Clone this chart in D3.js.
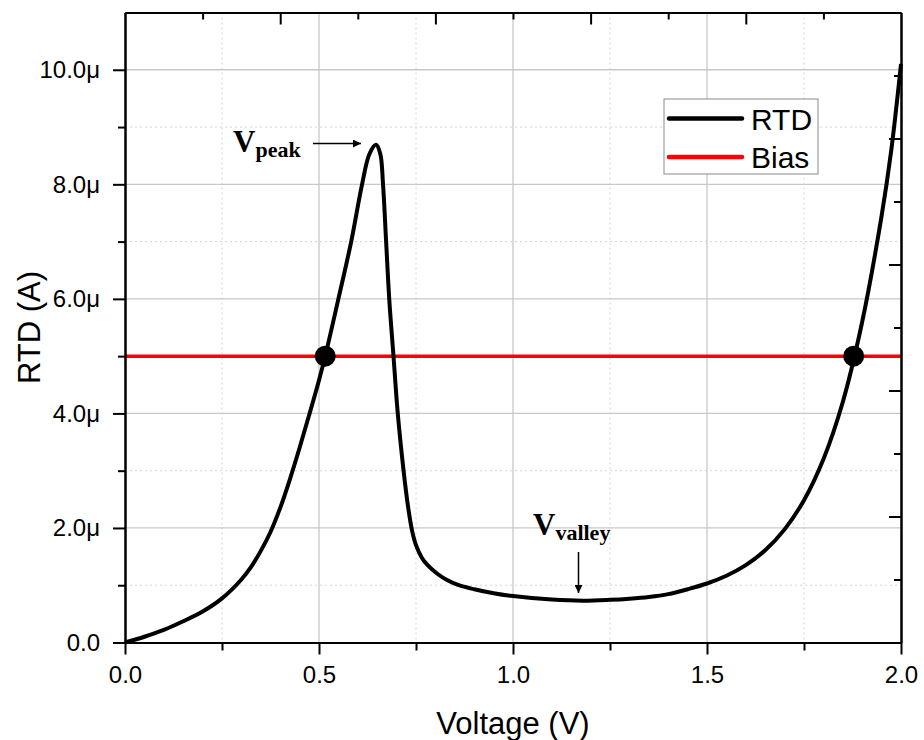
<!DOCTYPE html>
<html lang="en">
<head>
	<meta charset="UTF-8">
	<title>RTD</title>
	<script src="https://d3js.org/d3.v7.min.js"></script>
	<style>
		body { margin: 0; background: #fff; }
		.tick text { font-family: "Liberation Sans", Arial, sans-serif; font-size: 24px; fill: #000; }
	</style>
</head>
<body>

	<div class="box"></div>

	<script type="text/javascript">
		// voltage (V) and RTD current (uA)
		let voltage = [0, 0.05, 0.1, 0.15, 0.2, 0.25, 0.3, 0.325, 0.35, 0.375, 0.4, 0.425, 0.45, 0.475, 0.5, 0.516, 0.55, 0.583, 0.611, 0.63, 0.647, 0.658, 0.665, 0.673, 0.681, 0.692, 0.703, 0.718, 0.73, 0.74, 0.75, 0.765, 0.78, 0.805, 0.83, 0.86, 0.9, 0.95, 1.0, 1.1, 1.18, 1.25, 1.3, 1.35, 1.4, 1.45, 1.5, 1.55, 1.6, 1.65, 1.7, 1.75, 1.8, 1.85, 1.9, 1.95, 1.975, 2.0]
		let current = [0, 0.1, 0.22, 0.37, 0.54, 0.77, 1.1, 1.32, 1.6, 1.93, 2.35, 2.85, 3.4, 3.98, 4.58, 5.0, 6.0, 7.0, 8.0, 8.53, 8.69, 8.53, 8.0, 7.0, 6.0, 5.0, 4.0, 3.0, 2.35, 1.95, 1.7, 1.48, 1.35, 1.2, 1.09, 1.0, 0.93, 0.86, 0.81, 0.75, 0.73, 0.745, 0.765, 0.795, 0.845, 0.93, 1.03, 1.165, 1.35, 1.61, 1.975, 2.485, 3.2, 4.2, 5.6, 7.45, 8.6, 10.1]
		let bias = 5
		let crossings = [0.516, 1.878]
		let xTicks = [0, 0.5, 1.0, 1.5, 2.0]
		let xMinor = [0.25, 0.75, 1.25, 1.75]
		let yTicks = [0, 2, 4, 6, 8, 10]
		let yMinor = [1, 3, 5, 7, 9]
		let seriesNames = ['RTD', 'Bias']
		let seriesColors = ['#000000', '#ff0000']

		let width = 924
		let height = 740
		let margin = { top: 12.5, right: 23, bottom: 97.5, left: 125 }
		let innerW = width - margin.left - margin.right
		let innerH = height - margin.top - margin.bottom
		let font = '"Liberation Sans", Arial, sans-serif'
		let serif = '"Liberation Serif", "Times New Roman", serif'

		let svg = d3.select('.box').append('svg').attr('width', width).attr('height', height)
		let g = svg.append('g').attr('transform', `translate(${margin.left},${margin.top})`)

		let x = d3.scaleLinear().domain([0, 2]).range([0, innerW])
		let y = d3.scaleLinear().domain([0, 11]).range([innerH, 0])
		// opposite axes: plain ticks, 10 intervals
		let xTop = d3.scaleLinear().domain([0, 10]).range([0, innerW])
		let yRight = d3.scaleLinear().domain([0, 10]).range([innerH, 0])

		// grid
		let grid = g.append('g')
		grid.selectAll('.vmin').data(xMinor).enter().append('line')
			.attr('x1', d => x(d)).attr('x2', d => x(d)).attr('y1', 0).attr('y2', innerH)
			.attr('stroke', '#d4d4d4').attr('stroke-width', 1).attr('stroke-dasharray', '2,3')
		grid.selectAll('.hmin').data(yMinor).enter().append('line')
			.attr('x1', 0).attr('x2', innerW).attr('y1', d => y(d)).attr('y2', d => y(d))
			.attr('stroke', '#d4d4d4').attr('stroke-width', 1).attr('stroke-dasharray', '2,3')
		grid.selectAll('.vmaj').data(xTicks.slice(1, -1)).enter().append('line')
			.attr('x1', d => x(d)).attr('x2', d => x(d)).attr('y1', 0).attr('y2', innerH)
			.attr('stroke', '#c8c8c8').attr('stroke-width', 1.3)
		grid.selectAll('.hmaj').data(yTicks.slice(1)).enter().append('line')
			.attr('x1', 0).attr('x2', innerW).attr('y1', d => y(d)).attr('y2', d => y(d))
			.attr('stroke', '#c8c8c8').attr('stroke-width', 1.3)

		// bias line
		g.append('line')
			.attr('x1', x(0)).attr('x2', x(2)).attr('y1', y(bias)).attr('y2', y(bias))
			.attr('stroke', seriesColors[1]).attr('stroke-width', 3.5)

		// RTD curve
		let pts = voltage.map((v, i) => [v, current[i]])
		let line = d3.line().x(d => x(d[0])).y(d => y(d[1])).curve(d3.curveCatmullRom.alpha(0.5))
		g.append('path').datum(pts)
			.attr('d', line)
			.attr('fill', 'none')
			.attr('stroke', seriesColors[0])
			.attr('stroke-width', 4)
			.attr('stroke-linejoin', 'round')

		// intersection dots
		g.selectAll('.dot').data(crossings).enter().append('circle')
			.attr('cx', d => x(d)).attr('cy', y(bias)).attr('r', 10.5).attr('fill', '#000')

		// axes
		function styleAxis (sel) {
			sel.select('.domain').attr('stroke', '#000').attr('stroke-width', 2)
			sel.selectAll('.tick line').attr('stroke', '#000').attr('stroke-width', 2)
		}
		let fmtY = d => d === 0 ? '0.0' : d.toFixed(1) + 'μ'

		g.append('g').attr('transform', `translate(0,${innerH})`)
			.call(d3.axisBottom(x).tickValues(xMinor).tickSize(8).tickFormat('').tickSizeOuter(0))
			.call(styleAxis)
		g.append('g').attr('transform', `translate(0,${innerH})`)
			.call(d3.axisBottom(x).tickValues(xTicks).tickSize(12).tickPadding(11.5).tickFormat(d3.format('.1f')).tickSizeOuter(0))
			.call(styleAxis)
		g.append('g')
			.call(d3.axisLeft(y).tickValues(yMinor).tickSize(7).tickFormat('').tickSizeOuter(0))
			.call(styleAxis)
		g.append('g')
			.call(d3.axisLeft(y).tickValues(yTicks).tickSize(12).tickPadding(13).tickFormat(fmtY).tickSizeOuter(0))
			.call(styleAxis)

		// top and right frame axes, ticks pointing inward
		g.append('g')
			.call(d3.axisBottom(xTop).tickValues(d3.range(1, 10, 2)).tickSize(7).tickFormat('').tickSizeOuter(0))
			.call(styleAxis)
		g.append('g')
			.call(d3.axisBottom(xTop).tickValues(d3.range(2, 10, 2)).tickSize(12).tickFormat('').tickSizeOuter(0))
			.call(styleAxis)
		g.append('g').attr('transform', `translate(${innerW},0)`)
			.call(d3.axisLeft(yRight).tickValues(d3.range(1, 10, 2)).tickSize(7).tickFormat('').tickSizeOuter(0))
			.call(styleAxis)
		g.append('g').attr('transform', `translate(${innerW},0)`)
			.call(d3.axisLeft(yRight).tickValues(d3.range(2, 10, 2)).tickSize(12).tickFormat('').tickSizeOuter(0))
			.call(styleAxis)

		// axis titles
		svg.append('text')
			.attr('x', margin.left + innerW / 2).attr('y', 734)
			.attr('text-anchor', 'middle')
			.attr('font-family', font).attr('font-size', 31)
			.text('Voltage (V)')
		svg.append('text')
			.attr('transform', `translate(40,${margin.top + innerH / 2}) rotate(-90)`)
			.attr('text-anchor', 'middle')
			.attr('font-family', font).attr('font-size', 31)
			.text('RTD (A)')

		// annotations
		svg.append('defs').append('marker')
			.attr('id', 'arrow').attr('viewBox', '0 0 10 10')
			.attr('refX', 10).attr('refY', 5)
			.attr('markerWidth', 9).attr('markerHeight', 8)
			.attr('markerUnits', 'userSpaceOnUse')
			.attr('orient', 'auto')
			.append('path').attr('d', 'M0,0 L10,5 L0,10 Z').attr('fill', '#000')

		let peakLabel = svg.append('text').attr('x', 233).attr('y', 152)
			.attr('font-family', serif).attr('font-weight', 'bold')
		peakLabel.append('tspan').attr('font-size', 31).text('V')
		peakLabel.append('tspan').attr('font-size', 22).attr('dy', 5).text('peak')
		svg.append('line')
			.attr('x1', 313).attr('y1', 143.5).attr('x2', 361).attr('y2', 143.5)
			.attr('stroke', '#000').attr('stroke-width', 1.5).attr('marker-end', 'url(#arrow)')

		let valleyLabel = svg.append('text').attr('x', 533).attr('y', 535)
			.attr('font-family', serif).attr('font-weight', 'bold')
		valleyLabel.append('tspan').attr('font-size', 31).text('V')
		valleyLabel.append('tspan').attr('font-size', 22).attr('dy', 5).text('valley')
		svg.append('line')
			.attr('x1', 578.5).attr('y1', 552).attr('x2', 578.5).attr('y2', 593)
			.attr('stroke', '#000').attr('stroke-width', 1.5).attr('marker-end', 'url(#arrow)')

		// legend
		let legend = svg.append('g').attr('transform', 'translate(664,99)')
		legend.append('rect')
			.attr('width', 154).attr('height', 75)
			.attr('fill', '#fff').attr('stroke', '#8a8a8a').attr('stroke-width', 1)
		let items = legend.selectAll('.item').data(seriesNames).enter().append('g')
			.attr('transform', (d, i) => `translate(0,${19.5 + i * 38.5})`)
		items.append('line')
			.attr('x1', 5).attr('x2', 78).attr('y1', 0).attr('y2', 0)
			.attr('stroke', (d, i) => seriesColors[i]).attr('stroke-width', 4.5)
			.attr('stroke-linecap', 'round')
		items.append('text')
			.attr('x', 87).attr('y', 11)
			.attr('font-family', font).attr('font-size', 30)
			.text(d => d)
	</script>
</body>
</html>
